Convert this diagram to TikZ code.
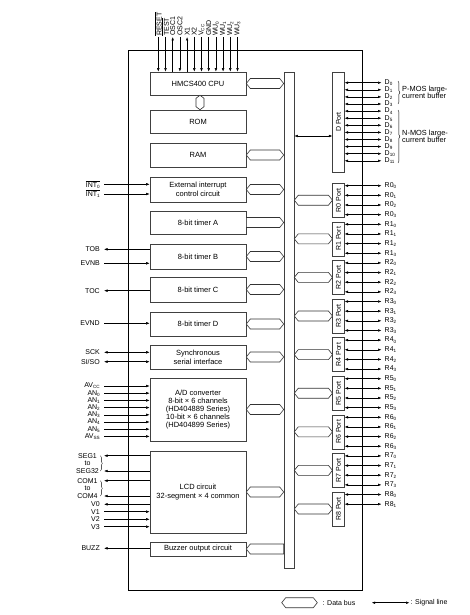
\documentclass[tikz,border=0pt]{standalone}
\usepackage{fontspec}
\setmainfont{Liberation Sans}
\usetikzlibrary{arrows.meta,decorations.pathreplacing,calc}
\newcommand\sbs[1]{\raisebox{-0.3ex}{\fontsize{4.6}{5}\selectfont #1}}
\newcommand\ovl[1]{$\overline{\mbox{#1}}$}
\newcommand\dbushex[4]{%
  \draw[dbus] let \p1=(#1), \p2=(#2) in
    (\x1,\y1) -- (\x1+#3,\y1+5pt) -- (\x2-#4,\y1+5pt) -- (\x2,\y1)
    -- (\x2-#4,\y1-5pt) -- (\x1+#3,\y1-5pt) -- cycle;}
\tikzset{
  blk/.style={draw=black!75, line width=0.6pt, minimum width=96pt, inner sep=1pt,
    align=center, font=\fontsize{7.5}{9}\selectfont, fill=white},
  portbox/.style={draw=black!75, line width=0.6pt, minimum width=11.5pt,
    minimum height=34pt, inner sep=0pt, fill=white, font=\fontsize{7}{8}\selectfont},
  lbl/.style={inner sep=1pt, font=\fontsize{7}{7.5}\selectfont},
  dbus/.style={draw=black!80, line width=0.6pt, fill=white},
  sigline/.style={line width=0.5pt},
  pinin/.style={sigline,->},
  pinout/.style={sigline,<-},
  pinio/.style={sigline,<->},
  brc/.style={decorate, decoration={brace, amplitude=1.8pt}, line width=0.4pt},
}
\begin{document}
\begin{tikzpicture}[x=1pt,y=-1pt,>={Latex[length=3.5pt,width=2.6pt]}]
\useasboundingbox (0,0) rectangle (470,615);
\fill[white] (0,0) rectangle (470,615);

% chip outline
\node[draw, line width=0.6pt, minimum width=234pt, minimum height=540pt, inner sep=0pt] (chip) at (245,320) {};

% helper coordinates
\coordinate (lx) at (104,0);
\coordinate (rx) at (381.5,0);
\coordinate (vx) at (200,0);
\coordinate (dl) at (0,136);
\coordinate (bx) at (100.5,0);

% internal blocks
\node[blk, minimum height=23pt] (cpu) at (198,83.5) {HMCS400 CPU};
\node[blk, minimum height=23pt] (rom) at (198,121.5) {ROM};
\node[blk, minimum height=24pt] (ram) at (198,155) {RAM};
\node[blk, minimum height=25pt] (exti) at (198,189.5) {External interrupt\\control circuit};
\node[blk, minimum height=23pt] (tma) at (198,222.5) {8-bit timer A};
\node[blk, minimum height=25pt] (tmb) at (198,256.5) {8-bit timer B};
\node[blk, minimum height=25pt] (tmc) at (198,289.5) {8-bit timer C};
\node[blk, minimum height=24pt] (tmd) at (198,324) {8-bit timer D};
\node[blk, minimum height=24pt] (sio) at (198,357) {Synchronous\\serial interface};
\node[blk, minimum height=63pt, font=\fontsize{7.5}{7.9}\selectfont] (adc) at (198,409.5)
  {A/D converter\\8-bit × 6 channels\\(HD404889 Series)\\10-bit × 6 channels\\(HD404899 Series)};
\node[blk, minimum height=82pt] (lcd) at (198,492) {LCD circuit\\32-segment × 4 common};
\node[blk, minimum height=14pt] (buz) at (198,549) {Buzzer output circuit};

% internal bus and ports
\node[draw=black!75, line width=0.6pt, minimum width=10pt, minimum height=496pt, inner sep=0pt, fill=white] (bus) at (289,320) {};
\node[portbox, minimum height=100pt] (dport) at (338.5,122) {\rotatebox{90}{D Port}};
\foreach \q in {0,...,8}{
  \node[portbox] (rp\q) at (338.5,{200.2+38.6*\q}) {\rotatebox{90}{R\q\ Port}};
}

% data buses
\draw[dbus] let \p1=(cpu.south -| vx), \p2=(rom.north -| vx) in
  (\x1,\y1) -- (\x1+4pt,\y1-3pt) -- (\x1+4pt,\y2+3pt) -- (\x1,\y2)
  -- (\x1-4pt,\y2+3pt) -- (\x1-4pt,\y1-3pt) -- cycle;
\dbushex{cpu.east}{bus.west |- cpu.east}{4pt}{4pt}
\dbushex{ram.east}{bus.west |- ram.east}{4pt}{4pt}
\dbushex{exti.east}{bus.west |- exti.east}{4pt}{4pt}
\dbushex{tma.east}{bus.west |- tma.east}{0pt}{4pt}
\dbushex{tmb.east}{bus.west |- tmb.east}{4pt}{4pt}
\dbushex{tmc.east}{bus.west |- tmc.east}{4pt}{4pt}
\dbushex{tmd.east}{bus.west |- tmd.east}{4pt}{4pt}
\dbushex{sio.east}{bus.west |- sio.east}{4pt}{4pt}
\dbushex{adc.east}{bus.west |- adc.east}{4pt}{4pt}
\dbushex{lcd.east}{bus.west |- lcd.east}{4pt}{4pt}
\dbushex{buz.east}{bus.west |- buz.east}{4pt}{0pt}
\foreach \q in {0,...,8}{
  \dbushex{bus.east |- rp\q.west}{rp\q.west}{4pt}{4pt}
}
\draw[pinio] (bus.east |- dl) -- (dport.west |- dl);

% top pins
\foreach \nm/\dir [count=\i from 0] in {{\ovl{RESET}}/in,{\ovl{TEST}}/in,OSC1/out,OSC2/in,X1/out,X2/in,{V\sbs{CC}}/in,GND/in,{WU\sbs{0}}/in,{WU\sbs{1}}/in,{WU\sbs{2}}/in,{WU\sbs{3}}/in}{
  \node[lbl, rotate=90, anchor=west] (tp\i) at ({158.3+7.2*\i},37) {\nm};
  \draw[pin\dir] (tp\i.west) -- (cpu.north -| tp\i.west);
}

% left pins
\foreach \nm/\yy/\bb/\dir [count=\j] in {
  {\ovl{INT\sbs{0}}}/184.3/exti/in, {\ovl{INT\sbs{1}}}/194/exti/in,
  TOB/249.3/tmb/out, EVNB/263.3/tmb/in, TOC/290.7/tmc/out, EVND/323.3/tmd/in,
  SCK/352.3/sio/io, {SI/SO}/361.7/sio/io,
  {AV\sbs{CC}}/386/adc/in, {AN\sbs{0}}/393.2/adc/in, {AN\sbs{1}}/400.4/adc/in,
  {AN\sbs{2}}/407.6/adc/in, {AN\sbs{3}}/414.8/adc/in, {AN\sbs{4}}/422/adc/in,
  {AN\sbs{5}}/429.2/adc/in, {AV\sbs{SS}}/436.4/adc/in,
  V0/504.3/lcd/out, V1/511.7/lcd/in, V2/519.3/lcd/in, V3/526.7/lcd/in,
  BUZZ/548.3/buz/out}{
  \node[lbl, anchor=east] (lq\j) at (101,\yy) {\nm};
  \draw[pin\dir] (lx |- lq\j) -- (\bb.west |- lq\j);
}
\node[lbl] (seg1) at (87.5,455.7) {SEG1};
\node[lbl] (segto) at (87.5,462.9) {to};
\node[lbl] (seg32) at (87.5,471) {SEG32};
\node[lbl] (com1) at (87.5,480.7) {COM1};
\node[lbl] (comto) at (87.5,488.2) {to};
\node[lbl] (com4) at (87.5,496) {COM4};
\draw[pinout] (lx |- seg1) -- (lcd.west |- seg1);
\draw[pinout] (lx |- seg32) -- (lcd.west |- seg32);
\draw[pinout] (lx |- com1) -- (lcd.west |- com1);
\draw[pinout] (lx |- com4) -- (lcd.west |- com4);
\draw[brc] (bx |- seg1) -- (bx |- seg32);
\draw[brc] (bx |- com1) -- (bx |- com4);

% right pins: D port
\foreach \i in {0,...,11}{
  \node[lbl, anchor=west] (dq\i) at (383.5,{82.7+7.1*\i}) {D\sbs{\i}};
  \draw[pinio] (dport.east |- dq\i) -- (rx |- dq\i);
}
% right pins: R ports
\foreach \q in {0,...,8}{
  \foreach \i in {0,...,3}{
    \pgfmathtruncatemacro\k{4*\q+\i}
    \ifnum\k<34
      \node[lbl, anchor=west] (rq\q\i) at (383.5,{185.7+9.65*\k}) {R\q\sbs{\i}};
      \draw[pinio] (rp\q.east |- rq\q\i) -- (rx |- rq\q\i);
    \fi
  }
}
\draw[brc] (398,81) -- (398,104);
\node[lbl, anchor=west, align=left, font=\fontsize{7.4}{7.2}\selectfont] (pmos) at (401,92.5) {P-MOS large-\\current buffer};
\draw[brc] (398,110) -- (398,163);
\node[lbl, anchor=west, align=left, font=\fontsize{7.4}{7.2}\selectfont] (nmos) at (401,136.5) {N-MOS large-\\current buffer};

% legend
\coordinate (lgA) at (281.7,602.7);
\coordinate (lgB) at (317.3,602.7);
\node[lbl, anchor=west] (lgdb) at (321.5,602.7) {: Data bus};
\dbushex{lgA}{lgB}{4pt}{4pt}
\coordinate (lgC) at (371.7,602.7);
\node[lbl, anchor=west] (lgsl) at (409.5,602.7) {: Signal line};
\draw[pinio] (lgC) -- (lgsl.west);
\end{tikzpicture}
\end{document}
